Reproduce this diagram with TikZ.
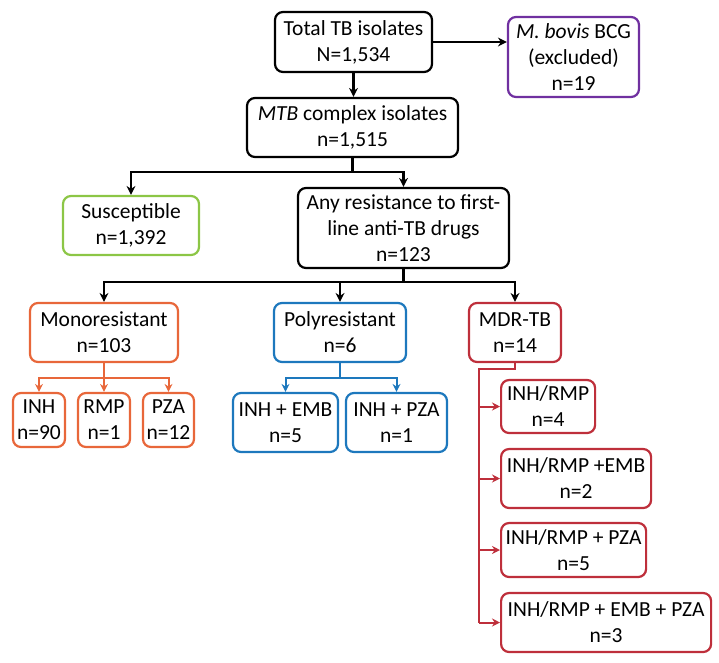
\documentclass[tikz,border=0pt]{standalone}
\usepackage{fontspec}
\setmainfont{Carlito}
\usetikzlibrary{arrows.meta}
\definecolor{cblack}{HTML}{000000}
\definecolor{cpurple}{HTML}{7030A0}
\definecolor{cgreen}{HTML}{8CC646}
\definecolor{corange}{HTML}{E8673A}
\definecolor{cblue}{HTML}{1D78BD}
\definecolor{cred}{HTML}{BE2F3B}
\tikzset{
  box/.style={draw=#1, line width=2.2pt, rounded corners=8pt, align=center, inner sep=0pt,
    font=\fontsize{21.5}{26}\selectfont, text=black},
  arr/.style={line width=2.1pt, -{Stealth[length=9pt,width=9pt]}},
  carr/.style={line width=2pt, -{Stealth[length=8pt,width=8pt]}},
  ln/.style={line width=2.1pt},
}
\begin{document}
\begin{tikzpicture}[x=1pt,y=-1pt]
\useasboundingbox (0,0) rectangle (719,662);
% top
\node[box=cblack, minimum width=157pt, minimum height=60pt] (total) at (353.5,42) {Total TB isolates\\N=1,534};
\node[box=cpurple, minimum width=131pt, minimum height=80pt] (bovis) at (573.5,57) {\textit{M. bovis} BCG\\(excluded)\\n=19};
\node[box=cblack, minimum width=211pt, minimum height=59pt] (mtb) at (352.5,127.5) {\textit{MTB} complex isolates\\n=1,515};
\node[box=cgreen, minimum width=136pt, minimum height=59pt] (susc) at (131,225.5) {Susceptible\\n=1,392};
\node[box=cblack, minimum width=211pt, minimum height=80pt] (any) at (403.5,228) {Any resistance to first-\\line anti-TB drugs\\n=123};
% second level
\node[box=corange, minimum width=148pt, minimum height=59pt] (mono) at (104,332.5) {Monoresistant\\n=103};
\node[box=cblue, minimum width=132pt, minimum height=59pt] (poly) at (340,332.5) {Polyresistant\\n=6};
\node[box=cred, minimum width=92pt, minimum height=59pt] (mdr) at (515,332.5) {MDR-TB\\n=14};
% mono children
\node[box=corange, minimum width=52pt, minimum height=54pt] (inh) at (39,420) {INH\\n=90};
\node[box=corange, minimum width=52pt, minimum height=54pt] (rmp) at (104,420) {RMP\\n=1};
\node[box=corange, minimum width=51pt, minimum height=54pt] (pza) at (168.5,420) {PZA\\n=12};
% poly children
\node[box=cblue, minimum width=105pt, minimum height=59pt] (ie) at (285.5,422.5) {INH + EMB\\n=5};
\node[box=cblue, minimum width=101pt, minimum height=59pt] (ip) at (396.5,422.5) {INH + PZA\\n=1};
% mdr children
\node[box=cred, minimum width=94pt, minimum height=53pt, anchor=west] (d1) at (500,406.5) {INH/RMP\\n=4};
\node[box=cred, minimum width=150pt, minimum height=59pt, anchor=west] (d2) at (500,478.5) {INH/RMP +EMB\\n=2};
\node[box=cred, minimum width=145pt, minimum height=54pt, anchor=west] (d3) at (500,550) {INH/RMP + PZA\\n=5};
\node[box=cred, minimum width=210pt, minimum height=59pt, anchor=west] (d4) at (500,622.5) {INH/RMP + EMB + PZA\\n=3};
% coordinates
\coordinate (b1) at (352.5,172);
\coordinate (b2) at (403.5,282);
\coordinate (b3) at (104,378);
\coordinate (b4) at (340,378);
\coordinate (m0) at (479,369);
% connectors
\draw[arr] (total.east) -- (total.east -| bovis.west);
\draw[arr] (total.south) -- (total.south |- mtb.north);
\draw[ln] (mtb.south) -- (b1);
\draw[arr] (b1) -| (susc.north);
\draw[arr] (b1) -| (any.north);
\draw[ln] (any.south) -- (b2);
\draw[arr] (b2) -| (mono.north);
\draw[arr] (b2) -| (poly.north);
\draw[arr] (b2) -| (mdr.north);
\begin{scope}[corange]
\draw[ln] (mono.south) -- (b3);
\draw[carr] (b3) -| (inh.north);
\draw[carr] (b3) -- (rmp.north);
\draw[carr] (b3) -| (pza.north);
\end{scope}
\begin{scope}[cblue]
\draw[ln] (poly.south) -- (b4);
\draw[carr] (b4) -| (ie.north);
\draw[carr] (b4) -| (ip.north);
\end{scope}
\begin{scope}[cred]
\draw[ln] (mdr.south) |- (m0) -- (m0 |- d4.west);
\draw[carr] (m0 |- d1.west) -- (d1.west);
\draw[carr] (m0 |- d2.west) -- (d2.west);
\draw[carr] (m0 |- d3.west) -- (d3.west);
\draw[carr] (m0 |- d4.west) -- (d4.west);
\end{scope}
\end{tikzpicture}
\end{document}
